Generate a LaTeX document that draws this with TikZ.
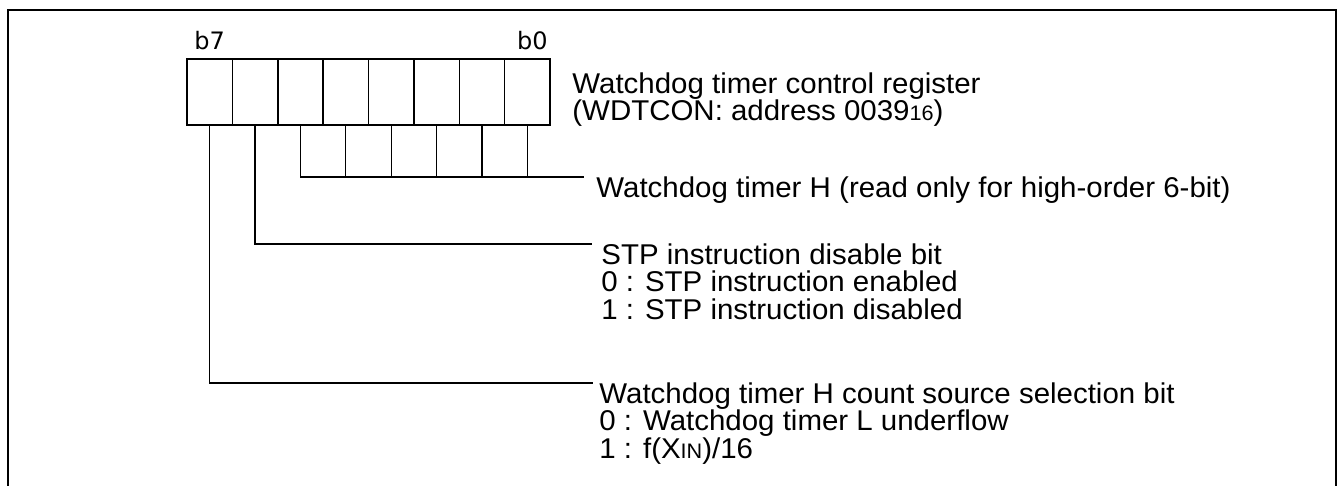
\documentclass[tikz,border=0pt]{standalone}
\usepackage{fontspec}
\setmainfont{Liberation Sans}[FakeStretch=1.03]
\newfontfamily\bitfont{DejaVu Sans}
\usetikzlibrary{positioning}

\tikzset{
    cell/.style={draw, line width=0.75pt, minimum width=22.69pt, minimum height=33pt, inner sep=0pt, outer sep=0pt},
    wire/.style={line width=0.65pt},
    desc/.style={anchor=north west, inner sep=0pt, align=left, font=\fontsize{14.3}{13.9}\selectfont},
    bitlbl/.style={inner sep=0pt, font=\bitfont\fontsize{12}{12}\selectfont},
}
\newcommand{\smallsub}[1]{{\fontsize{10.5}{10.5}\selectfont #1}}

\begin{document}
\begin{tikzpicture}[x=0.5pt, y=-0.5pt]
    \useasboundingbox (0,0) rectangle (1337,486);
    % frame, open at the bottom
    \draw[line width=1.2pt] (8,486) -- (8,10) -- (1336,10) -- (1336,486);
    % register cells b7 ... b0
    \foreach \b [count=\i from 0] in {7,6,...,0} {
        \node[cell] (c\b) at ({187+45.375*(\i+0.5)},92) {};
    }
    \node[bitlbl, anchor=base] (b7) at ([yshift=4.5pt]c7.north) {b7};
    \node[bitlbl, anchor=base east] (b0) at ([xshift=-1pt, yshift=4.5pt]c0.north east) {b0};
    \node[desc] (wdtcon) at (572,72) {Watchdog timer control register\\(WDTCON: address 0039\smallsub{16})};
    % bit descriptions
    \node[desc] (tmrH) at (596,176) {Watchdog timer H (read only for high-order 6-bit)};
    \node[desc] (stp) at (601,243) {STP instruction disable bit\\0 : STP instruction enabled\\1 : STP instruction disabled};
    \node[desc] (srcsel) at (599,382) {Watchdog timer H count source selection bit\\0 : Watchdog timer L underflow\\1 : f(X\smallsub{IN})/16};
    % connectors
    \coordinate (tmrHend) at ([xshift=-6pt, yshift=-0.5pt]tmrH.north west);
    \draw[wire] (c5.south) |- (tmrHend);
    \foreach \b in {4,...,0} {
        \draw[wire] (c\b.south) -- (c\b.south |- tmrHend);
    }
    \draw[wire] (c6.south) |- ([xshift=-4.5pt, yshift=-0.5pt]stp.north west);
    \draw[wire] (c7.south) |- ([xshift=-3pt, yshift=-0.5pt]srcsel.north west);
\end{tikzpicture}
\end{document}
